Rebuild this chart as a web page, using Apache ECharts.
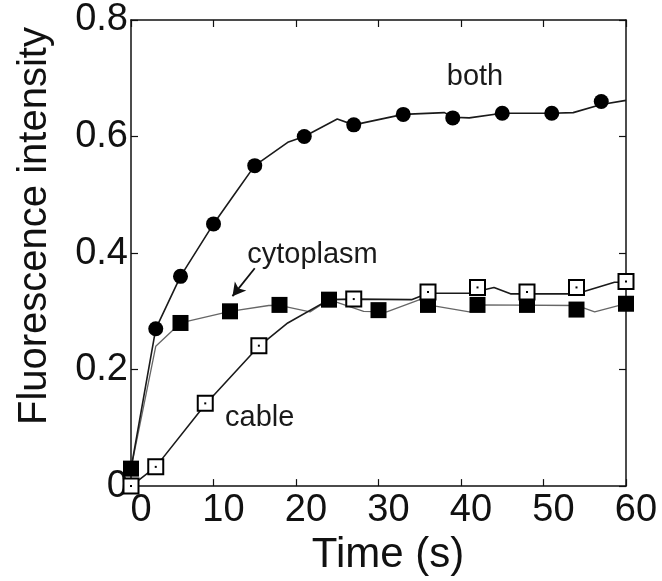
<!DOCTYPE html>
<html>
<head>
<meta charset="utf-8">
<script src="https://cdn.jsdelivr.net/npm/echarts@6/dist/echarts.min.js"></script>
<style>
  html, body { margin: 0; padding: 0; background: #fff; }
  #chart { width: 662px; height: 581px; }
</style>
</head>
<body>
<div id="chart"></div>
<script>
// time (s) and intensity
var bothLineT = [0, 3, 6, 10, 12.5, 15, 19, 21, 25, 27, 33, 38, 39, 41, 45, 51, 53.6, 57, 60];
var bothLineY = [0.03, 0.27, 0.36, 0.45, 0.50, 0.55, 0.59, 0.60, 0.63, 0.62, 0.638, 0.641, 0.633, 0.632, 0.64, 0.64, 0.641, 0.655, 0.662];
var bothMarkT = [3, 6, 10, 15, 21, 27, 33, 39, 45, 51, 57];
var bothMarkY = [0.27, 0.36, 0.45, 0.55, 0.60, 0.62, 0.638, 0.632, 0.64, 0.64, 0.66];

var cytoLineT = [0, 3, 6, 12, 16.7, 18, 21.7, 24, 28.2, 31, 35, 36, 41, 42, 54, 56.2, 60];
var cytoLineY = [0.03, 0.24, 0.28, 0.30, 0.31, 0.31, 0.299, 0.32, 0.30, 0.299, 0.32, 0.311, 0.299, 0.311, 0.31, 0.299, 0.313];
var cytoMarkT = [0, 6, 12, 18, 24, 30, 36, 42, 48, 54, 60];
var cytoMarkY = [0.03, 0.28, 0.30, 0.311, 0.32, 0.302, 0.311, 0.311, 0.311, 0.303, 0.313];

var cableLineT = [0, 3, 9, 15.5, 19, 24, 27, 34, 36, 41, 44, 46, 54, 58.6, 60];
var cableLineY = [0, 0.033, 0.14, 0.24, 0.28, 0.32, 0.321, 0.32, 0.331, 0.331, 0.341, 0.33, 0.33, 0.35, 0.35];
var cableMarkT = [0, 3, 9, 15.5, 27, 36, 42, 48, 54, 60];
var cableMarkY = [0, 0.033, 0.142, 0.241, 0.321, 0.333, 0.341, 0.333, 0.341, 0.351];

// text notes and the arrow, in data units
var noteText = ['both', 'cytoplasm', 'cable'];
var noteT = [41.7, 22.0, 15.6];
var noteY = [0.703, 0.397, 0.117];
var arrowFrom = [15.0, 0.374];
var arrowTo = [12.3, 0.326];

var xTicks = [0, 60, 10];
var yTicks = [0, 0.8, 0.2];

function pairs(t, y) {
    return t.map(function (v, i) { return [v, y[i]]; });
}

var font = '"Liberation Sans", Arial, sans-serif';
var ink = '#111';

var chart = echarts.init(document.getElementById('chart'), null, { renderer: 'canvas' });

function frameLine() {
    return { show: true, onZero: false, lineStyle: { color: ink, width: 1.5 } };
}
function inTick() {
    return { show: true, inside: true, length: 7, lineStyle: { color: ink, width: 1.2 } };
}

var option = {
    backgroundColor: '#fff',
    animation: false,
    grid: { left: 131, right: 36, top: 20, bottom: 89, containLabel: false },
    xAxis: [{
        type: 'value',
        min: xTicks[0], max: xTicks[1], interval: xTicks[2],
        position: 'bottom',
        axisLine: frameLine(),
        axisTick: inTick(),
        splitLine: { show: false },
        axisLabel: { fontSize: 38, fontFamily: font, color: ink, margin: 5, padding: [0, 0, 0, 20] },
        name: 'Time (s)',
        nameLocation: 'middle',
        nameGap: 44,
        nameTextStyle: { fontSize: 42, fontFamily: font, color: ink, padding: [0, 0, 0, 19] }
    }, {
        type: 'value',
        min: xTicks[0], max: xTicks[1], interval: xTicks[2],
        position: 'top',
        axisLine: frameLine(),
        axisTick: inTick(),
        axisLabel: { show: false },
        splitLine: { show: false }
    }],
    yAxis: [{
        type: 'value',
        min: yTicks[0], max: yTicks[1], interval: yTicks[2],
        position: 'left',
        axisLine: frameLine(),
        axisTick: inTick(),
        splitLine: { show: false },
        axisLabel: { fontSize: 38, fontFamily: font, color: ink, margin: 3 },
        name: 'Fluorescence intensity',
        nameLocation: 'middle',
        nameGap: 76,
        nameTextStyle: { fontSize: 40, fontFamily: font, color: ink, padding: [0, 0, 0, 54] }
    }, {
        type: 'value',
        min: yTicks[0], max: yTicks[1], interval: yTicks[2],
        position: 'right',
        axisLine: frameLine(),
        axisTick: inTick(),
        axisLabel: { show: false },
        splitLine: { show: false }
    }],
    series: [
        {
            name: 'cytoplasm line', type: 'line', showSymbol: false, clip: false,
            data: pairs(cytoLineT, cytoLineY),
            lineStyle: { color: '#666', width: 1.3 }, z: 2
        },
        {
            name: 'cable line', type: 'line', showSymbol: false, clip: false,
            data: pairs(cableLineT, cableLineY),
            lineStyle: { color: '#1a1a1a', width: 1.6 }, z: 2
        },
        {
            name: 'both line', type: 'line', showSymbol: false, clip: false,
            data: pairs(bothLineT, bothLineY),
            lineStyle: { color: '#1a1a1a', width: 1.6 }, z: 2
        },
        {
            name: 'cytoplasm', type: 'scatter', clip: false, symbol: 'rect', symbolSize: 16,
            data: pairs(cytoMarkT, cytoMarkY),
            itemStyle: { color: '#000', opacity: 1 }, z: 3
        },
        {
            name: 'cable', type: 'scatter', clip: false, symbol: 'rect', symbolSize: 15,
            data: pairs(cableMarkT, cableMarkY),
            itemStyle: { color: '#fff', borderColor: '#000', borderWidth: 2, opacity: 1 }, z: 4
        },
        {
            name: 'cable dots', type: 'scatter', clip: false, symbol: 'rect', symbolSize: 2,
            data: pairs(cableMarkT, cableMarkY),
            itemStyle: { color: '#000', opacity: 1 }, z: 5
        },
        {
            name: 'both', type: 'scatter', clip: false, symbol: 'circle', symbolSize: 15,
            data: pairs(bothMarkT, bothMarkY),
            itemStyle: { color: '#000', opacity: 1 }, z: 3
        },
        {
            name: 'notes', type: 'scatter', symbolSize: 0, clip: false,
            data: noteText.map(function (s, i) { return { name: s, value: [noteT[i], noteY[i]] }; }),
            itemStyle: { color: '#000', opacity: 1 },
            label: {
                show: true, position: 'inside', formatter: '{b}',
                fontSize: 29, fontFamily: font, color: '#1a1a1a',
                textBorderWidth: 0, opacity: 1
            },
            markLine: {
                silent: true,
                symbol: ['none', 'arrow'],
                symbolSize: [11, 13],
                label: { show: false },
                lineStyle: { color: ink, width: 1.8, type: 'solid', opacity: 1 },
                data: [[{ coord: arrowFrom }, { coord: arrowTo }]]
            },
            z: 6
        }
    ]
};

chart.setOption(option);
</script>
</body>
</html>
